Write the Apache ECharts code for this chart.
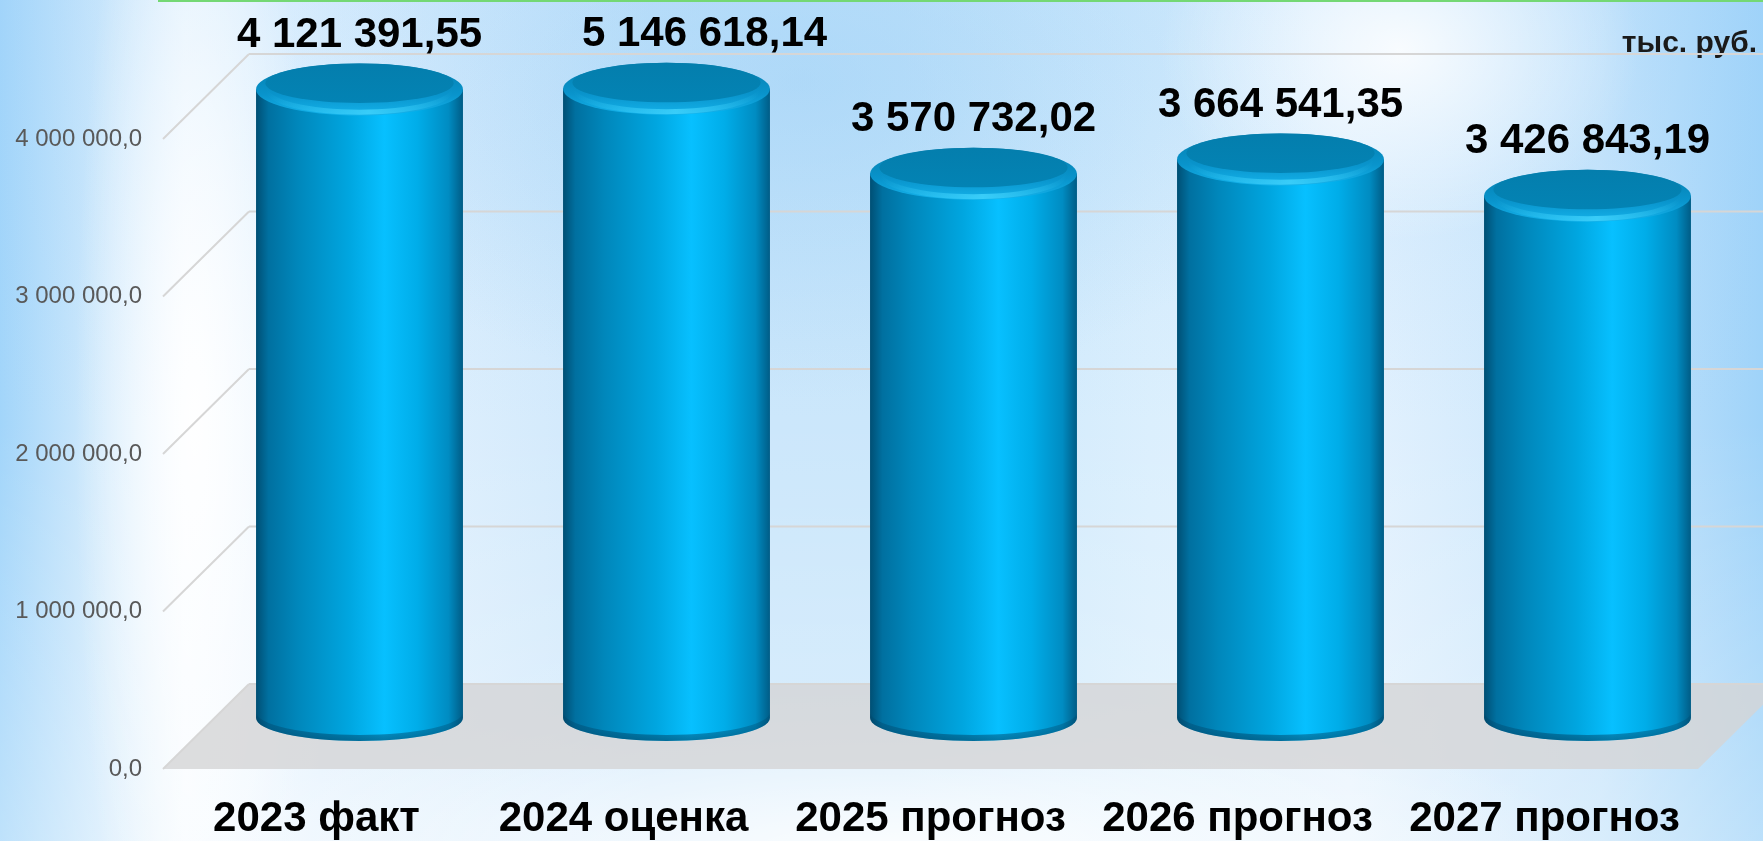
<!DOCTYPE html>
<html>
<head>
<meta charset="utf-8">
<script src="https://cdn.jsdelivr.net/npm/echarts@6/dist/echarts.min.js"></script>
<style>
html, body { margin: 0; padding: 0; }
#main {
	width: 1763px;
	height: 841px;
	background:
		radial-gradient(ellipse 240px 190px at 1400px 50px, rgba(255,255,255,0.85), rgba(255,255,255,0) 100%),
		radial-gradient(ellipse 700px 170px at 900px 860px, rgba(255,255,255,0.95), rgba(255,255,255,0) 100%),
		radial-gradient(ellipse 120px 700px at 195px 420px, rgba(255,255,255,0.95), rgba(255,255,255,0) 100%),
		radial-gradient(ellipse 520px 320px at 800px 80px, rgba(150,205,245,0.45), rgba(150,205,245,0) 100%),
		linear-gradient(to bottom, rgba(160,210,250,0.25) 0%, rgba(255,255,255,0) 50%, rgba(255,255,255,0.3) 100%),
		linear-gradient(to right, #a2d5fa 0px, #d6ecfc 110px, #f4faff 185px, #e6f3fe 320px, #cde7fb 650px, #cbe7fb 900px, #dbeffd 1150px, #e4f2fe 1350px, #c8e5fb 1600px, #9fd3f9 1763px);
}
</style>
</head>
<body>
<div id="main"></div>
<script>
var categories = ['2023 факт', '2024 оценка', '2025 прогноз', '2026 прогноз', '2027 прогноз'];
var values = [4121391.55, 5146618.14, 3570732.02, 3664541.35, 3426843.19];
var yTicks = [0, 1000000, 2000000, 3000000, 4000000];
var unitLabel = 'тыс. руб.';

var AXIS_MAX = 4125000;     // ось обрезана, столбец 2024 упирается в верх
var DEPTH_X = 86, DEPTH_Y = -85;   // сдвиг задней стенки
var BAR_X = 43, BAR_Y = -51;       // основание цилиндров (середина глубины)
var BAR_SCALE = 0.973;
var LABEL_SHIFT = { 1: 38 };       // подпись 2024 сдвинута вправо вручную
var FONT = '"Liberation Sans", Arial, sans-serif';

function fmtNum(v, d) {
	var s = v.toFixed(d).split('.');
	var intPart = s[0].replace(/\B(?=(\d{3})+(?!\d))/g, ' ');
	return d ? intPart + ',' + s[1] : intPart;
}

function ellipsePath(cx, cy, rx, ry) {
	return 'M' + (cx - rx) + ' ' + cy +
		' A' + rx + ' ' + ry + ' 0 1 0 ' + (cx + rx) + ' ' + cy +
		' A' + rx + ' ' + ry + ' 0 1 0 ' + (cx - rx) + ' ' + cy + ' Z';
}

// полоска вдоль нижней дуги эллипса
function crescentPath(cx, cy, rx, ry, h) {
	return 'M' + (cx - rx) + ' ' + cy +
		' A' + rx + ' ' + ry + ' 0 0 0 ' + (cx + rx) + ' ' + cy +
		' L' + (cx + rx) + ' ' + (cy - h) +
		' A' + rx + ' ' + ry + ' 0 0 1 ' + (cx - rx) + ' ' + (cy - h) + ' Z';
}

function renderFloor(params, api) {
	var cs = params.coordSys;
	var y0 = api.coord([0, 0])[1];
	var x0 = cs.x, x1 = cs.x + cs.width;
	return {
		type: 'polygon',
		shape: { points: [[x0, y0], [x1, y0], [x1 + DEPTH_X, y0 + DEPTH_Y], [x0 + DEPTH_X, y0 + DEPTH_Y]] },
		style: { fill: 'rgba(212,213,214,0.8)' }
	};
}

function renderWall(params, api) {
	var cs = params.coordSys;
	var y = api.coord([0, api.value(1)])[1];
	var x0 = cs.x;
	var bx = x0 + DEPTH_X, by = y + DEPTH_Y;
	var lineStyle = { stroke: '#d6d6d6', lineWidth: 2 };
	return {
		type: 'group',
		children: [
			{ type: 'line', shape: { x1: x0, y1: y, x2: bx, y2: by }, style: lineStyle },
			{ type: 'line', shape: { x1: bx, y1: by, x2: cs.x + cs.width + DEPTH_X + 40, y2: by }, style: lineStyle }
		]
	};
}

function renderBar(params, api) {
	var i = api.value(0), v = api.value(1);
	var p0 = api.coord([i, 0]);
	var pv = api.coord([i, Math.min(v, AXIS_MAX)]);
	var rx = api.size([1, 0])[0] * 0.337;
	var ry = 23, ryTop = 26;
	var cx = p0[0] + BAR_X;
	var baseY = p0[1] + BAR_Y;
	var topY = baseY - (p0[1] - pv[1]) * BAR_SCALE + 3;

	var body = 'M' + (cx - rx) + ' ' + topY + ' L' + (cx - rx) + ' ' + baseY +
		' A' + rx + ' ' + ry + ' 0 0 0 ' + (cx + rx) + ' ' + baseY +
		' L' + (cx + rx) + ' ' + topY + ' Z';

	return {
		type: 'group',
		children: [
			{
				type: 'path',
				shape: { pathData: body },
				style: {
					fill: {
						type: 'linear', x: 0, y: 0, x2: 1, y2: 0,
						colorStops: [
							{ offset: 0, color: '#004f74' },
							{ offset: 0.06, color: '#0070a0' },
							{ offset: 0.2, color: '#0087bb' },
							{ offset: 0.45, color: '#00a6e0' },
							{ offset: 0.62, color: '#07c0ff' },
							{ offset: 0.78, color: '#00ade9' },
							{ offset: 0.93, color: '#008cc2' },
							{ offset: 1, color: '#005c86' }
						]
					}
				}
			},
			{
				type: 'path',
				shape: { pathData: crescentPath(cx, baseY, rx, ry, 6) },
				style: {
					fill: {
						type: 'linear', x: 0, y: 0, x2: 0, y2: 1,
						colorStops: [
							{ offset: 0, color: 'rgba(0,45,75,0.1)' },
							{ offset: 0.6, color: 'rgba(0,45,75,0.3)' },
							{ offset: 1, color: 'rgba(0,45,75,0.5)' }
						]
					}
				}
			},
			{
				type: 'path',
				shape: { pathData: ellipsePath(cx, topY, rx, ryTop) },
				style: {
					fill: {
						type: 'linear', x: 0, y: 0, x2: 0, y2: 1,
						colorStops: [
							{ offset: 0, color: '#047ead' },
							{ offset: 0.6, color: '#0994cc' },
							{ offset: 1, color: '#14b2ea' }
						]
					}
				}
			},
			{
				type: 'path',
				shape: { pathData: ellipsePath(cx, topY - ryTop * 0.24, rx * 0.91, ryTop * 0.76) },
				style: {
					fill: {
						type: 'linear', x: 0, y: 0, x2: 0, y2: 1,
						colorStops: [
							{ offset: 0, color: '#047ead' },
							{ offset: 1, color: '#0383b4' }
						]
					}
				}
			},
			{
				type: 'path',
				shape: { pathData: crescentPath(cx, topY + 2, rx * 0.9, ryTop * 0.9, 5) },
				style: {
					fill: {
						type: 'linear', x: 0, y: 0, x2: 1, y2: 0,
						colorStops: [
							{ offset: 0, color: 'rgba(70,215,255,0)' },
							{ offset: 0.55, color: 'rgba(70,215,255,0.75)' },
							{ offset: 1, color: 'rgba(70,215,255,0)' }
						]
					}
				}
			},
			{
				type: 'text',
				style: {
					text: fmtNum(v, 2),
					x: cx + (LABEL_SHIFT[i] || 0),
					y: topY - 54,
					align: 'center',
					verticalAlign: 'middle',
					font: 'bold 42px ' + FONT,
					fill: '#000'
				}
			}
		]
	};
}

var chart = echarts.init(document.getElementById('main'), null, { renderer: 'canvas' });

var option = {
	backgroundColor: 'transparent',
	animation: false,
	grid: {
		left: 163,
		right: 65,
		bottom: 72,
		top: 769 - AXIS_MAX * 157.5e-6
	},
	xAxis: {
		type: 'category',
		data: categories,
		axisLine: { show: false },
		axisTick: { show: false },
		splitLine: { show: false },
		axisLabel: {
			interval: 0,
			margin: 29,
			color: '#000',
			fontSize: 42,
			fontWeight: 'bold',
			fontFamily: FONT
		}
	},
	yAxis: {
		type: 'value',
		min: 0,
		max: AXIS_MAX,
		interval: 1000000,
		axisLine: { show: false },
		axisTick: { show: false },
		splitLine: { show: false },
		axisLabel: {
			margin: 21,
			color: '#595959',
			fontSize: 24,
			fontFamily: FONT,
			showMaxLabel: false,
			formatter: function (v) {
				return v % 1000000 === 0 ? fmtNum(v, 1) : '';
			}
		}
	},
	graphic: [
		{
			type: 'line',
			shape: { x1: 158, y1: 1, x2: 1763, y2: 1 },
			style: { stroke: '#74d874', lineWidth: 2 }
		},
		{
			type: 'text',
			x: 1757,
			y: 44,
			style: {
				text: unitLabel,
				align: 'right',
				verticalAlign: 'middle',
				font: 'bold 30px ' + FONT,
				fill: '#1a1a1a',
				shadowBlur: 3,
				shadowColor: 'rgba(0,0,0,0.35)',
				shadowOffsetY: 2
			}
		}
	],
	series: [
		{
			type: 'custom',
			name: 'floor',
			z: 1,
			silent: true,
			renderItem: renderFloor,
			data: [[0, 0]]
		},
		{
			type: 'custom',
			name: 'wall',
			z: 2,
			silent: true,
			renderItem: renderWall,
			data: yTicks.map(function (t) { return [0, t]; })
		},
		{
			type: 'custom',
			name: 'bars',
			z: 3,
			renderItem: renderBar,
			data: values.map(function (v, i) { return [i, v]; })
		}
	]
};

chart.setOption(option);
</script>
</body>
</html>
